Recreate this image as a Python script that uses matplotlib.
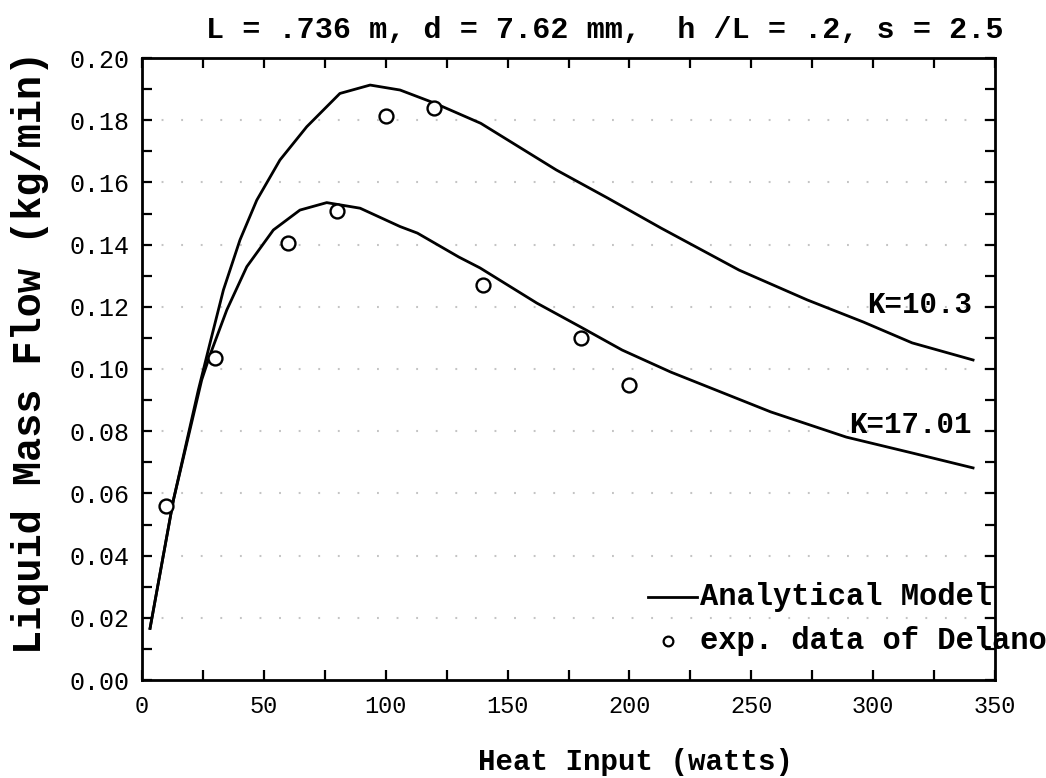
import numpy as np
import matplotlib
matplotlib.use('Agg')
import matplotlib.pyplot as plt
from matplotlib.ticker import MultipleLocator, FormatStrFormatter

# analytical model, K=10.3 (upper curve)
q_k103 = [3.3, 12.9, 23.1, 27.9, 33.4, 40.2, 47.1, 56.6, 67.6, 81.2, 93.6,
          105.9, 120, 139, 170, 191, 213, 245, 273, 296, 316, 341]
m_k103 = [0.0166, 0.0579, 0.0932, 0.1083, 0.1254, 0.1415, 0.1543, 0.1672,
          0.1779, 0.1886, 0.1913, 0.1897, 0.1855, 0.179, 0.164, 0.155, 0.1453,
          0.1318, 0.1222, 0.1151, 0.1084, 0.1029]

# analytical model, K=17.01 (lower curve)
q_k1701 = [3.3, 12.9, 24.5, 27.9, 34.8, 43, 53.9, 64.8, 75.8, 89.5, 105.9,
           113, 130, 138.7, 162, 180, 197, 217, 258, 289, 316, 341]
m_k1701 = [0.0166, 0.0579, 0.0965, 0.1045, 0.119, 0.1329, 0.1447, 0.1511,
           0.1535, 0.1517, 0.1458, 0.1437, 0.136, 0.1325, 0.1212, 0.1135,
           0.1061, 0.099, 0.0862, 0.0781, 0.073, 0.0682]

# experimental data of Delano
q_exp = [10, 30, 60, 80, 100, 120, 140, 180, 200]
m_exp = [0.056, 0.1036, 0.1404, 0.1509, 0.1813, 0.184, 0.127, 0.110, 0.095]

title = 'L = .736 m, d = 7.62 mm,  h /L = .2, s = 2.5'
mono = 'Liberation Mono'

fig = plt.figure(figsize=(10.46, 7.78), dpi=100)
ax = fig.add_axes([142 / 1046, 1 - 680 / 778, 853 / 1046, 622 / 778])

# faint dotted horizontal grid
for yg in np.arange(0.02, 0.19, 0.02):
    ax.axhline(yg, color='#c4c4c4', lw=1.5, ls=(0, (0.9, 8.5)), zorder=0)

ax.plot(q_k103, m_k103, color='black', lw=2.0)
ax.plot(q_k1701, m_k1701, color='black', lw=2.0)
ax.plot(q_exp, m_exp, 'o', mfc='white', mec='black', ms=10, mew=1.7)

ax.text(340.5, 0.1206, 'K=10.3', family=mono, weight='bold', fontsize=21,
        ha='right', va='center')
ax.text(340.5, 0.082, 'K=17.01', family=mono, weight='bold', fontsize=21,
        ha='right', va='center')

# legend drawn by hand, it runs over the right frame like the original
ax.plot([0.593, 0.651], [0.1335, 0.1335], transform=ax.transAxes,
        color='black', lw=2.0, clip_on=False)
ax.text(0.654, 0.1335, 'Analytical Model', transform=ax.transAxes,
        family=mono, weight='bold', fontsize=22, ha='left', va='center')
ax.plot([0.617], [0.0627], 'o', transform=ax.transAxes, mfc='white',
        mec='black', ms=7, mew=1.6, clip_on=False)
ax.text(0.654, 0.0627, 'exp. data of Delano', transform=ax.transAxes,
        family=mono, weight='bold', fontsize=22, ha='left', va='center',
        clip_on=False)

ax.set_xlim(0, 350)
ax.set_ylim(0, 0.20)
ax.xaxis.set_major_locator(MultipleLocator(50))
ax.xaxis.set_minor_locator(MultipleLocator(25))
ax.yaxis.set_major_locator(MultipleLocator(0.02))
ax.yaxis.set_minor_locator(MultipleLocator(0.01))
ax.yaxis.set_major_formatter(FormatStrFormatter('%.2f'))
ax.tick_params(which='both', direction='in', top=True, right=True,
               length=7, width=1.6)
ax.tick_params(axis='x', labelsize=17, pad=11)
ax.tick_params(axis='y', labelsize=18, pad=9)
for lab in ax.get_xticklabels() + ax.get_yticklabels():
    lab.set_family(mono)
for sp in ax.spines.values():
    sp.set_linewidth(2.0)

ax.set_xlabel('Heat Input (watts)', family=mono, weight='bold', fontsize=21)
ax.xaxis.set_label_coords((635 - 142) / 853, -(762 - 680) / 622)
ax.xaxis.label.set_va('center')
ax.set_ylabel('Liquid Mass Flow (kg/min)', family=mono, weight='bold', fontsize=29)
ax.yaxis.set_label_coords((30 - 142) / 853, (680 - 352) / 622)
ax.yaxis.label.set_va('center')

fig.text(605 / 1046, 1 - 30 / 778, title, family=mono, weight='bold',
         fontsize=21.7, ha='center', va='center')

fig.savefig('out.png', dpi=100)
